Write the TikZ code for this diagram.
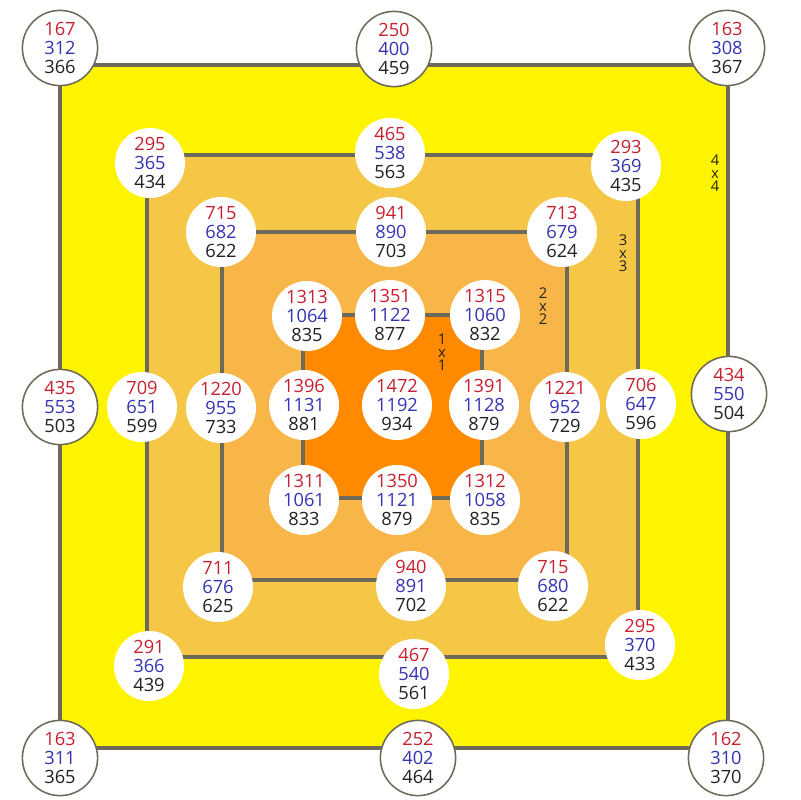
\documentclass[tikz,border=0pt]{standalone}
\usepackage{fontspec}
\setmainfont{Open Sans}
\usepackage{tikz}
\usetikzlibrary{positioning}
\usepackage{xcolor}
\definecolor{numred}{HTML}{C8202E}
\definecolor{numblue}{HTML}{3434B4}
\definecolor{numblack}{HTML}{222222}
\definecolor{edgegray}{HTML}{6E6A5A}
\definecolor{sqyellow}{HTML}{FFF400}
\definecolor{sqlight}{HTML}{F6C646}
\definecolor{sqmid}{HTML}{F8B548}
\definecolor{sqdark}{HTML}{FF8A00}
\newcommand{\cellnums}[3]{\textcolor{numred}{#1}\\\textcolor{numblue}{#2}\\\textcolor{numblack}{#3}}

\begin{document}
\begin{tikzpicture}[
    x=0.025cm, y=-0.025cm,
    cell/.style={circle, fill=white, minimum size=1.75cm, inner sep=0pt, align=center, font=\fontsize{13}{13.8}\selectfont},
    outercell/.style={cell, minimum size=1.88cm, draw=edgegray, line width=1.1pt},
    ring/.style={draw=edgegray, line width=2.2pt},
    sizelabel/.style={font=\fontsize{10.5}{9.4}\selectfont, align=center, inner sep=0pt, color=numblack}
]
    \useasboundingbox (0,0) rectangle (800,800);

    \filldraw[ring, fill=sqyellow] (60,65) rectangle (728,748);
    \filldraw[ring, fill=sqlight] (147,155) rectangle (638,657);
    \filldraw[ring, fill=sqmid] (222,232) rectangle (567,580);
    \filldraw[ring, fill=sqdark] (303,315) rectangle (482,498);

    \node[outercell] (otl) at (60,48) {\cellnums{167}{312}{366}};
    \node[outercell] (otm) at (394,49) {\cellnums{250}{400}{459}};
    \node[outercell] (otr) at (727,48) {\cellnums{163}{308}{367}};
    \node[outercell] (oml) at (60,407) {\cellnums{435}{553}{503}};
    \node[outercell] (omr) at (729,394) {\cellnums{434}{550}{504}};
    \node[outercell] (obl) at (60,758) {\cellnums{163}{311}{365}};
    \node[outercell] (obm) at (418,758) {\cellnums{252}{402}{464}};
    \node[outercell] (obr) at (726,758) {\cellnums{162}{310}{370}};

    \node[cell] (ttl) at (150,163) {\cellnums{295}{365}{434}};
    \node[cell] (ttm) at (390,153) {\cellnums{465}{538}{563}};
    \node[cell] (ttr) at (626,166) {\cellnums{293}{369}{435}};
    \node[cell] (tml) at (142,407) {\cellnums{709}{651}{599}};
    \node[cell] (tmr) at (641,404) {\cellnums{706}{647}{596}};
    \node[cell] (tbl) at (149,666) {\cellnums{291}{366}{439}};
    \node[cell] (tbm) at (414,674) {\cellnums{467}{540}{561}};
    \node[cell] (tbr) at (640,645) {\cellnums{295}{370}{433}};

    \node[cell] (htl) at (221,232) {\cellnums{715}{682}{622}};
    \node[cell] (htm) at (391,232) {\cellnums{941}{890}{703}};
    \node[cell] (htr) at (562,232) {\cellnums{713}{679}{624}};
    \node[cell] (hml) at (221,408) {\cellnums{1220}{955}{733}};
    \node[cell] (hmr) at (565,407) {\cellnums{1221}{952}{729}};
    \node[cell] (hbl) at (218,587) {\cellnums{711}{676}{625}};
    \node[cell] (hbm) at (411,586) {\cellnums{940}{891}{702}};
    \node[cell] (hbr) at (553,586) {\cellnums{715}{680}{622}};

    \node[cell] (ctl) at (307,316) {\cellnums{1313}{1064}{835}};
    \node[cell] (ctm) at (390,315) {\cellnums{1351}{1122}{877}};
    \node[cell] (ctr) at (485,315) {\cellnums{1315}{1060}{832}};
    \node[cell] (cml) at (304,405) {\cellnums{1396}{1131}{881}};
    \node[cell] (cc)  at (397,405) {\cellnums{1472}{1192}{934}};
    \node[cell] (cmr) at (484,405) {\cellnums{1391}{1128}{879}};
    \node[cell] (cbl) at (304,500) {\cellnums{1311}{1061}{833}};
    \node[cell] (cbm) at (397,500) {\cellnums{1350}{1121}{879}};
    \node[cell] (cbr) at (485,500) {\cellnums{1312}{1058}{835}};

    \node[sizelabel] (one)   at (442,352) {1\\x\\1};
    \node[sizelabel] (two)   at (543,306) {2\\x\\2};
    \node[sizelabel] (three) at (623,253) {3\\x\\3};
    \node[sizelabel] (four)  at (715,173) {4\\x\\4};
\end{tikzpicture}
\end{document}
